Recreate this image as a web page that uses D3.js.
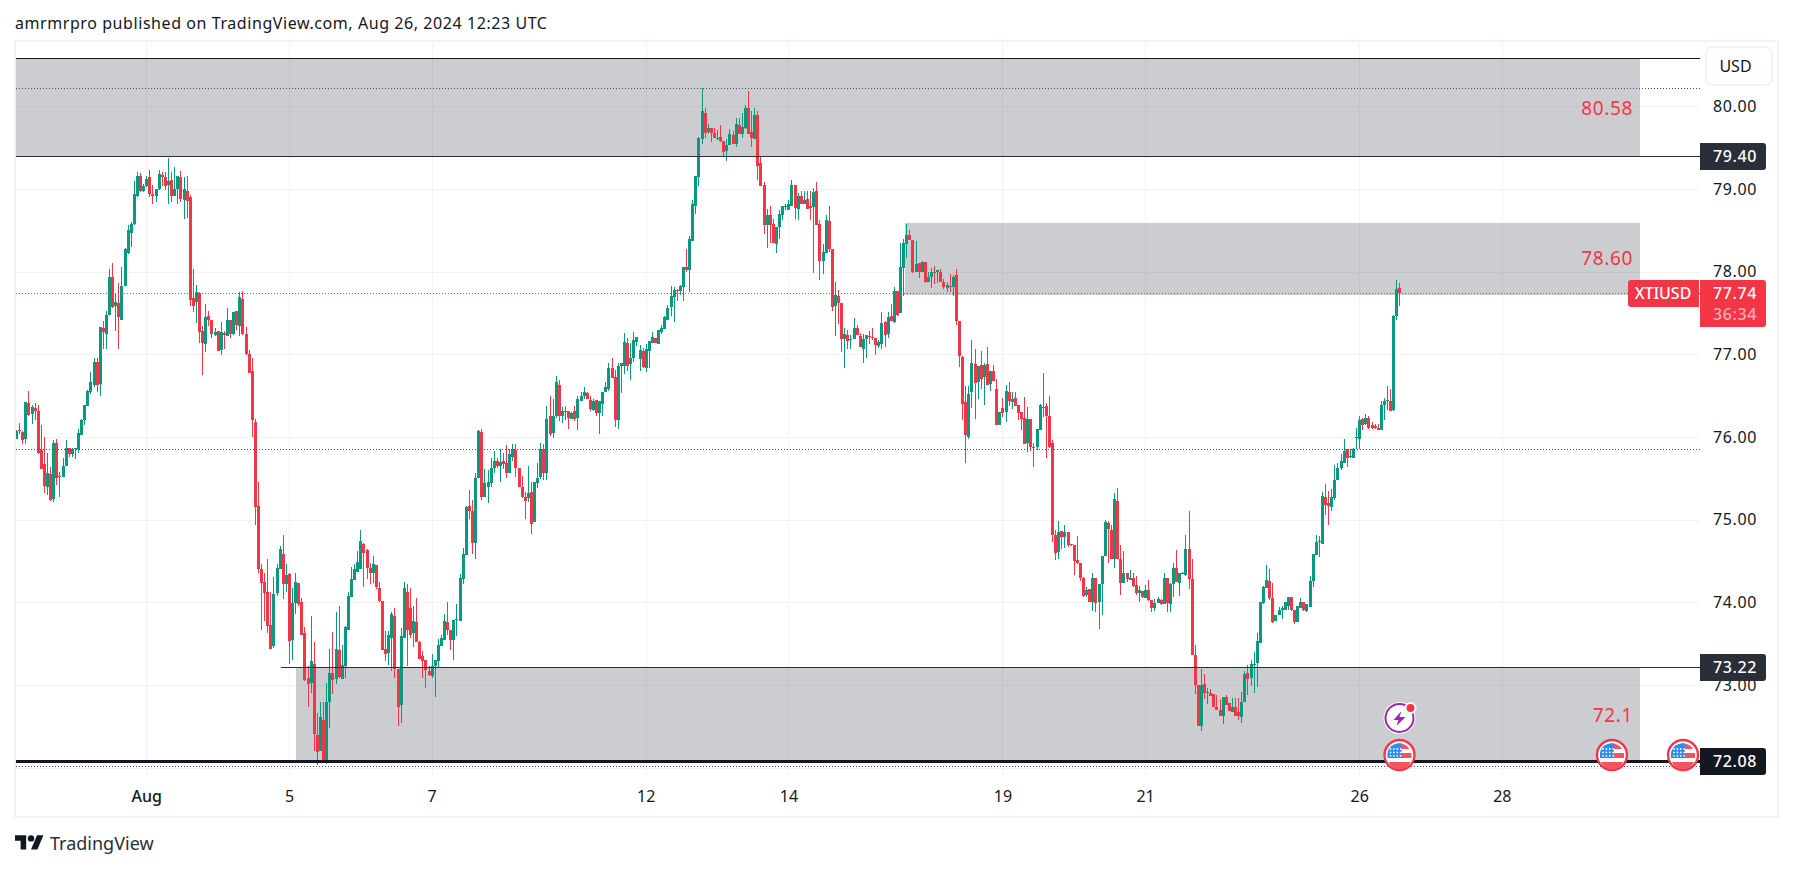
<!DOCTYPE html>
<html>
<head>
<meta charset="utf-8">
<script src="https://d3js.org/d3.v7.min.js"></script>
<style>
body { margin: 0; background: #fff; }
svg { display: block; }
text { font-family: "Noto Sans", sans-serif; }
</style>
</head>
<body>
<div id="chart"></div>
<script>
// hourly candles, one row of ten per line
var opens = [
75.98,76.08,76.06,75.97,76.41,76.28,76.35,76.32,75.84,75.67,
75.40,75.55,75.25,75.93,75.53,75.52,75.65,75.87,75.80,75.86,
75.86,76.03,76.20,76.38,76.54,76.63,76.91,76.64,77.32,77.25,
77.48,77.94,77.58,77.62,77.42,77.83,78.23,78.47,78.58,78.92,
79.16,78.97,79.04,79.15,78.94,78.92,79.00,79.17,79.15,79.05,
79.11,78.92,79.00,79.15,78.87,78.98,78.90,77.68,77.63,77.74,
77.28,77.13,77.46,77.42,77.23,77.28,77.05,77.26,77.22,77.42,
77.24,77.52,77.34,77.67,77.25,77.00,76.80,76.18,75.17,74.40,
74.25,74.12,73.73,73.47,74.11,74.40,74.58,74.22,74.34,73.54,
73.99,74.24,74.00,73.63,73.08,73.02,73.25,72.39,72.20,72.58,
72.08,72.79,73.14,73.07,73.42,73.07,73.23,73.67,74.07,74.27,
74.37,74.40,74.71,74.63,74.41,74.36,74.45,74.17,74.02,73.44,
73.39,73.57,73.84,73.19,72.76,73.57,74.12,73.93,73.63,73.76,
73.52,73.35,73.30,73.17,73.11,73.23,73.29,73.47,73.55,73.76,
73.66,73.54,73.79,73.78,74.28,74.57,75.16,75.10,74.72,75.50,
76.06,75.27,75.40,75.44,75.62,75.71,75.65,75.71,75.68,75.56,
75.76,75.84,75.63,75.40,75.28,75.26,75.34,74.97,75.44,75.52,
75.86,75.57,76.25,76.05,76.25,76.63,76.25,76.32,76.31,76.22,
76.31,76.23,76.44,76.50,76.53,76.45,76.33,76.45,76.29,76.40,
76.54,76.58,76.84,76.73,76.20,76.86,76.86,77.14,76.88,76.96,
77.15,76.94,77.04,76.84,77.04,77.14,77.20,77.13,77.27,77.31,
77.42,77.57,77.69,77.78,77.77,77.82,78.06,78.02,78.37,78.80,
79.14,79.61,79.92,79.69,79.74,79.68,79.61,79.63,79.58,79.46,
79.53,79.65,79.54,79.77,79.67,79.74,79.98,79.69,79.61,79.90,
79.31,79.05,78.57,78.69,78.58,78.34,78.54,78.69,78.79,78.75,
78.80,79.05,78.76,78.91,78.82,78.88,78.79,78.78,78.98,78.58,
78.13,78.23,78.61,78.27,77.58,77.71,77.62,77.18,77.23,77.18,
77.18,77.32,77.22,77.07,77.18,77.22,77.21,77.20,77.10,77.13,
77.39,77.24,77.46,77.39,77.76,77.50,78.05,78.34,78.44,78.38,
78.00,78.10,78.00,78.12,77.88,77.94,78.00,77.99,78.00,77.88,
77.80,77.83,77.82,77.96,77.40,76.97,76.42,76.00,76.54,76.88,
76.66,76.87,76.72,76.88,76.64,76.80,76.58,76.14,76.35,76.30,
76.55,76.42,76.47,76.39,76.30,76.23,75.93,76.22,75.88,75.88,
76.09,76.35,76.37,76.26,75.93,74.82,74.61,74.86,74.79,74.85,
74.70,74.69,74.51,74.47,74.30,74.09,74.16,74.01,74.30,74.00,
74.22,74.56,74.96,74.88,74.52,75.23,74.52,74.24,74.35,74.27,
74.29,74.21,74.11,74.14,74.05,74.15,74.03,73.93,73.99,74.03,
73.98,74.29,73.98,74.22,74.42,74.24,74.35,74.33,74.64,74.28,
73.36,73.00,72.50,73.01,72.90,72.90,72.89,72.73,72.70,72.63,
72.86,72.78,72.67,72.73,72.67,72.61,72.79,73.15,73.08,73.25,
73.27,73.51,73.99,74.17,74.26,74.05,73.77,73.85,73.91,73.91,
73.96,74.06,73.91,73.76,73.93,74.00,73.89,73.94,74.26,74.57,
74.73,74.71,75.28,75.20,75.15,75.26,75.48,75.62,75.69,75.85,
75.76,75.74,75.99,75.97,76.22,76.16,76.23,76.15,76.13,76.11,
76.08,76.39,76.44,76.44,76.33,77.46,77.80]

var highs = [
76.09,76.17,76.07,76.42,76.56,76.39,76.41,76.39,76.15,76.00,
75.81,75.64,75.96,75.98,75.58,75.75,75.96,75.87,75.87,75.87,
76.10,76.22,76.39,76.57,76.79,76.95,76.95,77.33,77.40,77.52,
78.03,78.11,77.73,77.86,78.06,78.29,78.56,78.60,79.10,79.20,
79.19,79.06,79.16,79.23,79.05,79.00,79.23,79.20,79.21,79.38,
79.21,79.26,79.16,79.22,79.14,79.16,78.93,78.03,77.84,77.75,
77.34,77.61,77.52,77.42,77.32,77.28,77.39,77.28,77.56,77.42,
77.51,77.53,77.75,77.77,77.33,77.05,76.95,76.22,75.45,74.46,
74.36,74.53,74.13,74.31,74.46,74.68,74.81,74.46,74.35,74.17,
74.35,74.24,74.05,73.70,73.23,73.83,73.52,72.66,72.79,72.79,
73.02,73.44,73.64,73.88,73.96,73.49,73.71,74.13,74.43,74.46,
74.62,74.87,74.72,74.64,74.47,74.56,74.45,74.25,74.02,73.65,
73.65,73.88,73.93,73.19,73.69,74.25,74.22,74.17,73.96,74.05,
73.53,73.41,73.30,73.23,73.38,73.30,73.56,73.60,73.86,74.00,
73.66,73.79,73.98,74.34,74.66,75.17,75.36,75.24,75.57,76.09,
76.10,75.61,75.60,75.75,75.83,75.75,75.85,75.81,75.90,75.86,
75.92,75.92,75.63,75.53,75.33,75.65,75.45,75.45,75.68,75.93,
75.92,76.38,76.49,76.46,76.74,76.69,76.36,76.37,76.31,76.30,
76.37,76.49,76.54,76.61,76.54,76.49,76.46,76.45,76.43,76.55,
76.67,76.90,76.96,76.81,76.90,76.90,77.26,77.20,77.14,77.27,
77.21,77.11,77.08,77.13,77.16,77.27,77.20,77.29,77.35,77.46,
77.60,77.83,77.82,77.79,77.84,78.06,78.28,78.43,78.87,79.16,
79.63,80.22,79.98,79.79,79.74,79.74,79.71,79.77,79.58,79.61,
79.73,79.70,79.86,79.86,79.92,80.02,80.18,79.94,79.98,79.94,
79.40,79.08,78.76,78.79,78.64,78.54,78.74,78.80,78.82,78.87,
79.11,79.05,78.95,78.97,78.97,78.97,78.98,79.01,79.09,78.63,
78.34,78.68,78.79,78.28,77.88,77.78,77.62,77.32,77.29,77.23,
77.44,77.35,77.26,77.24,77.23,77.28,77.32,77.20,77.17,77.51,
77.40,77.51,77.61,77.81,77.76,78.35,78.39,78.58,78.50,78.38,
78.37,78.10,78.13,78.12,77.99,78.04,78.07,78.02,78.03,77.91,
77.88,77.97,77.96,78.03,77.40,76.98,76.62,76.62,77.17,77.07,
76.86,77.04,76.89,77.09,76.80,76.87,76.70,76.30,76.47,76.63,
76.66,76.55,76.55,76.39,76.30,76.48,76.36,76.22,75.93,76.10,
76.40,76.78,76.41,76.50,75.96,74.88,74.98,74.86,74.94,74.85,
74.70,74.69,74.80,74.47,74.31,74.19,74.16,74.35,74.30,74.22,
74.56,75.00,74.98,74.93,75.32,75.38,74.69,74.62,74.35,74.39,
74.35,74.32,74.20,74.14,74.21,74.27,74.03,74.04,74.06,74.04,
74.35,74.29,74.23,74.47,74.63,74.35,74.37,74.82,75.11,74.52,
73.49,73.00,73.19,73.13,72.97,72.95,72.89,72.88,72.83,72.85,
72.88,72.78,72.84,72.84,72.84,72.92,73.17,73.24,73.30,73.40,
73.63,74.00,74.20,74.45,74.40,74.24,73.85,73.94,73.95,74.01,
74.06,74.06,73.91,73.95,74.05,74.00,73.98,74.32,74.58,74.81,
74.80,75.34,75.43,75.35,75.37,75.66,75.68,75.80,75.97,75.85,
75.85,75.87,76.11,76.26,76.23,76.28,76.25,76.18,76.16,76.16,
76.44,76.47,76.62,76.58,77.48,77.90,77.86]

var lows = [
75.98,76.04,75.92,75.91,76.25,76.16,76.20,75.80,75.61,75.32,
75.30,75.23,75.21,75.42,75.27,75.52,75.65,75.76,75.76,75.73,
75.81,76.03,76.15,76.38,76.52,76.60,76.55,76.50,77.07,77.07,
77.48,77.56,77.28,77.07,77.41,77.83,78.21,78.30,78.56,78.90,
78.96,78.96,79.02,78.90,78.82,78.84,78.99,79.03,78.99,78.82,
78.84,78.92,78.82,78.84,78.64,78.65,77.58,77.51,77.38,77.14,
76.75,77.03,77.34,77.20,77.22,77.04,76.99,77.07,77.22,77.20,
77.23,77.29,77.22,77.23,76.99,76.77,76.00,74.94,74.36,73.66,
73.78,73.63,73.43,73.45,74.08,74.40,74.04,74.13,73.26,73.30,
73.86,73.96,73.60,73.05,72.74,72.90,72.20,72.03,72.20,72.08,
72.04,72.48,72.89,73.01,73.09,73.07,73.09,73.67,74.07,74.27,
74.37,74.40,74.18,74.28,74.22,74.23,74.16,74.01,73.42,73.29,
73.24,73.17,73.08,72.51,72.54,73.57,73.23,73.57,73.46,73.52,
73.31,73.09,72.96,73.11,73.08,72.85,73.20,73.47,73.55,73.60,
73.42,73.30,73.59,73.78,74.22,74.57,75.01,74.59,74.53,75.50,
75.24,75.27,75.20,75.39,75.57,75.62,75.46,75.61,75.51,75.56,
75.71,75.52,75.40,75.26,75.01,75.21,74.83,74.97,75.38,75.49,
75.48,75.48,76.01,75.99,76.23,76.19,76.17,76.21,76.10,76.22,
76.19,76.08,76.44,76.46,76.46,76.31,76.31,76.25,76.04,76.26,
76.54,76.56,76.71,76.12,76.10,76.53,76.76,76.80,76.69,76.91,
77.10,76.80,76.84,76.79,76.84,77.14,77.14,77.13,77.25,77.31,
77.42,77.46,77.39,77.65,77.72,77.65,78.00,77.75,78.37,78.70,
79.04,79.55,79.62,79.67,79.57,79.62,79.59,79.57,79.40,79.34,
79.53,79.55,79.51,79.67,79.62,79.72,79.67,79.51,79.61,79.11,
79.03,78.45,78.29,78.35,78.35,78.22,78.39,78.62,78.75,78.75,
78.80,78.64,78.62,78.82,78.82,78.76,78.62,77.98,78.57,77.90,
77.97,78.23,78.24,77.53,77.22,77.37,77.03,76.83,77.06,77.06,
77.18,77.23,77.09,76.90,76.95,77.13,77.17,76.99,77.08,77.06,
77.09,77.20,77.40,77.38,77.46,77.50,77.70,78.17,78.38,77.98,
78.00,77.92,78.00,77.86,77.88,77.80,77.85,77.86,77.88,77.79,
77.75,77.75,77.70,77.35,76.85,76.20,75.69,75.98,76.35,76.22,
76.46,76.58,76.39,76.63,76.56,76.68,76.14,76.14,76.24,76.18,
76.38,76.34,76.37,76.20,76.08,75.92,75.82,75.83,75.64,75.84,
76.09,76.24,75.75,75.87,74.73,74.51,74.53,74.65,74.66,74.67,
74.68,74.33,74.46,74.26,74.07,74.07,74.00,73.90,73.88,73.68,
73.85,74.56,74.48,74.52,74.42,74.52,74.09,74.24,74.25,74.27,
74.19,74.09,74.00,74.05,74.05,74.02,73.88,73.89,73.99,73.97,
73.98,73.88,73.88,74.07,74.25,74.08,74.34,74.32,74.16,73.36,
72.89,72.50,72.44,72.83,72.77,72.87,72.73,72.70,72.62,72.53,
72.76,72.68,72.67,72.62,72.58,72.54,72.79,72.88,72.99,72.90,
72.98,73.51,73.98,74.17,74.03,73.75,73.77,73.85,73.80,73.91,
73.91,73.90,73.74,73.76,73.93,73.90,73.88,73.94,74.18,74.57,
74.55,74.71,75.06,74.93,75.10,75.24,75.48,75.60,75.69,75.64,
75.75,75.74,75.85,75.85,76.09,76.14,76.10,76.10,76.10,76.08,
76.08,76.21,76.33,76.32,76.32,77.41,77.58]

var closes = [
76.07,76.07,75.96,76.42,76.27,76.36,76.32,75.81,75.61,75.41,
75.56,75.24,75.93,75.51,75.52,75.65,75.87,75.79,75.85,75.87,
76.05,76.20,76.39,76.56,76.67,76.91,76.63,77.33,77.27,77.48,
77.93,77.57,77.63,77.45,77.83,78.27,78.50,78.58,78.94,79.16,
78.97,79.04,79.12,78.94,78.92,79.00,79.18,79.15,79.04,79.10,
78.91,79.00,79.16,78.88,79.00,78.86,77.66,77.59,77.75,77.27,
77.14,77.45,77.41,77.24,77.27,77.04,77.27,77.23,77.41,77.24,
77.51,77.35,77.69,77.25,77.00,76.78,76.20,75.15,74.40,74.23,
74.11,73.71,73.44,74.10,74.41,74.64,74.22,74.33,73.53,73.99,
74.25,73.98,73.60,73.06,73.01,73.29,72.41,72.19,72.61,72.08,
72.80,73.15,73.06,73.43,73.10,73.24,73.70,74.08,74.28,74.40,
74.49,74.74,74.60,74.41,74.35,74.46,74.18,74.02,73.42,73.38,
73.61,73.86,73.19,72.74,73.59,74.17,73.67,73.61,73.77,73.52,
73.32,73.29,73.18,73.12,73.23,73.30,73.48,73.57,73.77,73.66,
73.55,73.79,73.80,74.29,74.58,75.15,75.10,74.72,75.51,76.07,
75.27,75.44,75.45,75.63,75.71,75.65,75.70,75.67,75.56,75.79,
75.85,75.63,75.40,75.27,75.23,75.32,74.95,75.45,75.51,75.85,
75.56,76.22,76.04,76.26,76.66,76.25,76.31,76.31,76.23,76.29,
76.22,76.46,76.50,76.54,76.46,76.34,76.44,76.29,76.43,76.55,
76.61,76.84,76.71,76.20,76.86,76.89,77.15,76.86,76.96,77.17,
77.21,77.05,76.85,77.07,77.16,77.21,77.14,77.29,77.32,77.45,
77.56,77.70,77.78,77.77,77.83,78.06,78.02,78.39,78.82,79.16,
79.62,79.94,79.68,79.74,79.68,79.62,79.62,79.58,79.45,79.53,
79.66,79.55,79.78,79.67,79.75,79.98,79.67,79.62,79.89,79.28,
79.03,78.57,78.68,78.57,78.35,78.54,78.70,78.80,78.80,78.82,
79.05,78.77,78.92,78.82,78.87,78.76,78.77,78.96,78.57,78.13,
78.24,78.63,78.27,77.57,77.72,77.62,77.18,77.24,77.16,77.19,
77.32,77.23,77.09,77.18,77.23,77.21,77.20,77.11,77.15,77.38,
77.23,77.45,77.40,77.77,77.48,78.06,78.35,78.44,78.38,78.00,
78.09,77.99,78.12,77.88,77.93,77.99,77.98,78.02,77.88,77.81,
77.84,77.82,77.94,77.40,76.98,76.40,76.03,76.52,76.90,76.65,
76.86,76.70,76.87,76.63,76.80,76.68,76.14,76.30,76.29,76.56,
76.43,76.46,76.37,76.29,76.22,75.92,76.22,75.88,75.87,76.10,
76.39,76.36,76.26,75.88,74.82,74.60,74.85,74.79,74.85,74.69,
74.69,74.50,74.47,74.30,74.08,74.15,74.01,74.30,73.99,74.22,
74.56,74.97,74.89,74.52,75.25,74.52,74.24,74.36,74.28,74.30,
74.20,74.11,74.15,74.06,74.15,74.03,73.93,73.99,74.04,73.98,
74.30,73.99,74.22,74.42,74.25,74.35,74.36,74.65,74.28,73.36,
73.00,72.50,73.00,72.90,72.91,72.87,72.73,72.70,72.62,72.85,
72.76,72.69,72.74,72.62,72.62,72.79,73.13,73.07,73.25,73.26,
73.53,74.00,74.18,74.27,74.05,73.76,73.85,73.91,73.93,74.01,
74.06,73.91,73.76,73.95,74.00,73.91,73.98,74.26,74.58,74.73,
74.74,75.29,75.18,75.16,75.28,75.48,75.62,75.71,75.83,75.75,
75.77,75.86,76.00,76.21,76.15,76.23,76.11,76.11,76.11,76.09,
76.39,76.43,76.45,76.32,77.46,77.79,77.74]

var priceTicks = [73, 74, 75, 76, 77, 78, 79, 80]
var dateTickIdx = [42, 88, 134, 203, 249, 318, 364, 433, 479]
var dateTickLabels = ["Aug", "5", "7", "12", "14", "19", "21", "26", "28"]

// grey supply/demand boxes: [start candle, top price, bottom price]
var zoneStarts = [-1, 286.6, 90.3]
var zoneTops = [80.58, 78.59, 73.22]
var zoneBottoms = [79.40, 77.72, 72.08]
var zoneEnd = 523.5

var zoneNotes = ["80.58", "78.60", "72.1"]
var notePrices = [79.98, 78.16, 72.63]

var levelPrices = [80.58, 79.40, 73.22, 72.08]
var levelStarts = [-1, -1, 85.4, -1]
var levelWidths = [1, 1, 1, 3]
var levelColors = ["#131722", "#2a2e39", "#2a2e39", "#131722"]
var dottedPrices = [80.22, 75.85, 72.02]

var lastPrice = 77.74
var flagIdx = [446, 514.5, 537.4]

var svg = d3.select("#chart").append("svg")
  .attr("width", 1793)
  .attr("height", 870)

var paneLeft = 16, paneRight = 1700, paneTop = 42, paneBottom = 775

var x = d3.scaleLinear().domain([0, 446]).range([16, 16 + 446 * 3.102])
var y = d3.scaleLinear().domain([72, 80]).range([767.7, 106.3])

svg.append("defs").append("clipPath").attr("id", "pane")
  .append("rect")
    .attr("x", paneLeft).attr("y", paneTop)
    .attr("width", paneRight - paneLeft).attr("height", paneBottom - paneTop)

// frame
svg.append("rect")
  .attr("x", 15).attr("y", 41).attr("width", 1763).attr("height", 776)
  .attr("fill", "none").attr("stroke", "#f0f3fa").attr("stroke-width", 2)

// grid
var grid = svg.append("g").attr("shape-rendering", "crispEdges")
grid.selectAll(".h").data([72].concat(priceTicks)).enter().append("line")
  .attr("x1", paneLeft).attr("x2", paneRight)
  .attr("y1", function(d) { return Math.round(y(d)) + 0.5 })
  .attr("y2", function(d) { return Math.round(y(d)) + 0.5 })
  .attr("stroke", "#f2f3f5")
grid.selectAll(".v").data(dateTickIdx).enter().append("line")
  .attr("y1", paneTop).attr("y2", paneBottom)
  .attr("x1", function(d) { return Math.round(x(d)) + 0.5 })
  .attr("x2", function(d) { return Math.round(x(d)) + 0.5 })
  .attr("stroke", "#f2f3f5")

var pane = svg.append("g").attr("clip-path", "url(#pane)")

// zones
pane.selectAll(".zone").data(zoneTops).enter().append("rect")
  .attr("x", function(d, i) { return x(zoneStarts[i]) })
  .attr("width", function(d, i) { return x(zoneEnd) - x(zoneStarts[i]) })
  .attr("y", function(d) { return Math.round(y(d)) })
  .attr("height", function(d, i) { return Math.round(y(zoneBottoms[i])) - Math.round(y(d)) })
  .attr("fill", "#787b86")
  .attr("fill-opacity", 0.38)
  .attr("shape-rendering", "crispEdges")

// candles
var candle = pane.append("g").attr("shape-rendering", "crispEdges")
  .selectAll("g").data(opens).enter().append("g")
  .attr("fill", function(d, i) { return closes[i] >= d ? "#089981" : "#f23645" })
candle.append("rect")
  .attr("x", function(d, i) { return Math.round(x(i)) })
  .attr("width", 1)
  .attr("y", function(d, i) { return y(highs[i]) })
  .attr("height", function(d, i) { return y(lows[i]) - y(highs[i]) })
candle.append("rect")
  .attr("x", function(d, i) { return Math.round(x(i)) - 1 })
  .attr("width", 3)
  .attr("y", function(d, i) { return y(Math.max(d, closes[i])) })
  .attr("height", function(d, i) { return Math.max(1, Math.abs(y(d) - y(closes[i]))) })

// dotted levels
svg.selectAll(".dot").data(dottedPrices).enter().append("line")
  .attr("x1", paneLeft).attr("x2", paneRight)
  .attr("y1", function(d) { return Math.round(y(d)) + 0.5 })
  .attr("y2", function(d) { return Math.round(y(d)) + 0.5 })
  .attr("stroke", "#4a4d58")
  .attr("stroke-dasharray", "1 2")
  .attr("shape-rendering", "crispEdges")
svg.append("line")
  .attr("x1", paneLeft).attr("x2", paneRight)
  .attr("y1", Math.round(y(lastPrice)) + 0.5)
  .attr("y2", Math.round(y(lastPrice)) + 0.5)
  .attr("stroke", "#f23645")
  .attr("stroke-dasharray", "1 2")
  .attr("shape-rendering", "crispEdges")

// horizontal levels
svg.selectAll(".level").data(levelPrices).enter().append("line")
  .attr("x1", function(d, i) { return Math.max(paneLeft, x(levelStarts[i])) })
  .attr("x2", paneRight)
  .attr("y1", function(d) { return Math.round(y(d)) + 0.5 })
  .attr("y2", function(d) { return Math.round(y(d)) + 0.5 })
  .attr("stroke", function(d, i) { return levelColors[i] })
  .attr("stroke-width", function(d, i) { return levelWidths[i] })
  .attr("shape-rendering", "crispEdges")

// notes inside the zones
svg.selectAll(".note").data(zoneNotes).enter().append("text")
  .attr("x", x(zoneEnd) - 7)
  .attr("y", function(d, i) { return y(notePrices[i]) })
  .attr("dy", "0.35em")
  .attr("text-anchor", "end")
  .attr("fill", "#f23645")
  .attr("font-size", 19)
  .attr("letter-spacing", 0.6)
  .text(function(d) { return d })

// price axis
var yAxis = svg.append("g")
  .attr("transform", "translate(1735,0)")
  .call(d3.axisRight(y).tickValues(priceTicks).tickSize(0).tickPadding(0).tickFormat(d3.format(".2f")))
yAxis.select(".domain").remove()
yAxis.selectAll("text")
  .attr("text-anchor", "middle")
  .attr("fill", "#131722")
  .attr("font-size", 16)
  .attr("letter-spacing", 0.6)
  .style("font-family", "'Noto Sans'")

// date axis
var xAxis = svg.append("g")
  .attr("transform", "translate(0,791)")
  .call(d3.axisBottom(x).tickValues(dateTickIdx).tickSize(0).tickPadding(0)
    .tickFormat(function(d, i) { return dateTickLabels[i] }))
xAxis.select(".domain").remove()
xAxis.selectAll("text")
  .attr("fill", "#131722")
  .attr("font-size", 16)
  .style("font-family", "'Noto Sans'")
xAxis.selectAll("text").filter(function(d, i) { return i == 0 }).attr("font-weight", 500)

// right side labels
var levelLabels = svg.selectAll(".lab").data(levelPrices.slice(1)).enter().append("g")
  .attr("transform", function(d) { return "translate(1700," + Math.round(y(d)) + ")" })
levelLabels.append("path")
  .attr("d", "M0,-13H63a3,3 0 0 1 3,3V11a3,3 0 0 1 -3,3H0Z")
  .attr("fill", function(d, i) { return levelColors[i + 1] })
levelLabels.append("text")
  .attr("x", 35)
  .attr("dy", "0.35em")
  .attr("text-anchor", "middle")
  .attr("fill", "#fff")
  .attr("font-size", 16)
  .attr("font-weight", 500)
  .attr("letter-spacing", 0.6)
  .text(function(d) { return d3.format(".2f")(d) })

// last price label
var ly = Math.round(y(lastPrice))
svg.append("path")
  .attr("d", "M1628,"+(ly-10)+"a3,3 0 0 1 3,-3H1699V"+(ly+14)+"H1631a3,3 0 0 1 -3,-3Z")
  .attr("fill", "#f23645")
svg.append("path")
  .attr("d", "M1700,"+(ly-13)+"H1763a3,3 0 0 1 3,3V"+(ly+31)+"a3,3 0 0 1 -3,3H1700Z")
  .attr("fill", "#f23645")
svg.append("text").attr("x", 1663).attr("y", ly).attr("dy", "0.35em")
  .attr("text-anchor", "middle").attr("fill", "#fff").attr("font-size", 16).attr("font-weight", 500)
  .text("XTIUSD")
svg.append("text").attr("x", 1735).attr("y", ly).attr("dy", "0.35em")
  .attr("text-anchor", "middle").attr("fill", "#fff").attr("font-size", 16).attr("font-weight", 500)
  .attr("letter-spacing", 0.6).text(d3.format(".2f")(lastPrice))
svg.append("text").attr("x", 1735).attr("y", ly + 21).attr("dy", "0.35em")
  .attr("text-anchor", "middle").attr("fill", "#fff").attr("fill-opacity", 0.6).attr("font-size", 16)
  .attr("font-weight", 500).attr("letter-spacing", 0.6).text("36:34")

// currency button
svg.append("rect")
  .attr("x", 1706).attr("y", 47).attr("width", 66).attr("height", 38).attr("rx", 6)
  .attr("fill", "#fff").attr("stroke", "#f0f3fa").attr("stroke-width", 2)
svg.append("text").attr("x", 1735.5).attr("y", 66).attr("dy", "0.35em")
  .attr("text-anchor", "middle").attr("fill", "#131722").attr("font-size", 16).text("USD")

// event markers
var flagY = 755
var flag = svg.selectAll(".flag").data(flagIdx).enter().append("g")
  .attr("transform", function(d) { return "translate(" + x(d) + "," + flagY + ")" })
flag.append("circle").attr("r", 15).attr("fill", "#fff").attr("stroke", "#f23645").attr("stroke-width", 2.4)
flag.append("path").attr("d", "M-1,-11.5A12,12 0 0 1 10,-6H2V-2H12V3H-1Z").attr("fill", "#f7525f")
flag.append("path").attr("d", "M-11,7H11A12,12 0 0 1 -11,7Z").attr("fill", "#f7525f")
flag.append("path").attr("d", "M-12,3V-2A12,12 0 0 1 2,-11.6V3Z").attr("fill", "#2c8df0")
flag.selectAll("circle.star").data(d3.range(12)).enter().append("circle")
  .attr("class", "star").attr("r", 0.9).attr("fill", "#fff")
  .attr("cx", function(d) { return -9 + (d % 4) * 3.4 })
  .attr("cy", function(d) { return -6 + Math.floor(d / 4) * 3.4 })

var bolt = svg.append("g").attr("transform", "translate(" + x(flagIdx[0]) + ",718)")
bolt.append("circle").attr("r", 16).attr("fill", "#fff")
bolt.append("circle").attr("r", 14).attr("fill", "#fff").attr("stroke", "#9c27b0").attr("stroke-width", 2)
bolt.append("path").attr("d", "M2,-7L-6,2H-1L-3,8L6,-1H0Z").attr("fill", "#9c27b0")
bolt.append("circle").attr("cx", 11).attr("cy", -10).attr("r", 6).attr("fill", "#fff")
bolt.append("circle").attr("cx", 11).attr("cy", -10).attr("r", 4).attr("fill", "#f23645")

// header + logo
svg.append("text").attr("x", 15).attr("y", 23).attr("dy", "0.35em")
  .attr("fill", "#131722").attr("font-size", 16).attr("letter-spacing", 0.57)
  .text("amrmrpro published on TradingView.com, Aug 26, 2024 12:23 UTC")
svg.append("g").attr("transform", "translate(15,832) scale(0.8)")
  .attr("fill", "#131722")
  .call(function(g) {
    g.append("path").attr("d", "M14 22H7V11H0V4h14v18zM28 22h-8l7.5-18h8L28 22z")
    g.append("circle").attr("cx", 20).attr("cy", 8).attr("r", 4)
  })
svg.append("text").attr("x", 50).attr("y", 844).attr("dy", "0.35em")
  .attr("fill", "#2a2e39").attr("font-size", 18).text("TradingView")
</script>
</body>
</html>
